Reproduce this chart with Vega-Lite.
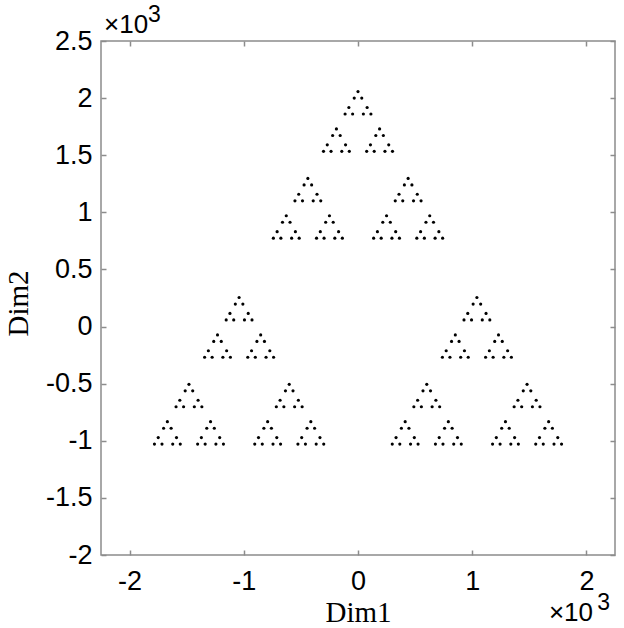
{
  "$schema": "https://vega.github.io/schema/vega-lite/v6.json",
  "autosize": {"type": "none"},
  "padding": {"left": 101, "top": 41, "right": 9, "bottom": 73},
  "width": 514,
  "height": 514,
  "background": "white",
  "config": {
    "view": {"stroke": "#8c8c8c", "strokeWidth": 1.5},
    "axis": {
      "grid": false,
      "domain": false,
      "tickColor": "#8c8c8c",
      "tickWidth": 1.5,
      "tickSize": -5,
      "labelFont": "Liberation Sans",
      "labelFontSize": 27,
      "labelColor": "black",
      "titleFont": "Liberation Serif",
      "titleFontSize": 29,
      "titleFontWeight": "normal",
      "titleColor": "black"
    }
  },
  "data": {"values": [
    {"x":0,"y":2057},{"x":-33,"y":2000},{"x":33,"y":2000},{"x":-80,"y":1918},{"x":-113,"y":1861},{"x":-47,"y":1861},{"x":80,"y":1918},{"x":47,"y":1861},{"x":113,"y":1861},
    {"x":-189,"y":1730},{"x":-222,"y":1673},{"x":-156,"y":1673},{"x":-269,"y":1591},{"x":-302,"y":1534},{"x":-236,"y":1534},{"x":-109,"y":1591},{"x":-142,"y":1534},{"x":-76,"y":1534},
    {"x":189,"y":1730},{"x":156,"y":1673},{"x":222,"y":1673},{"x":109,"y":1591},{"x":76,"y":1534},{"x":142,"y":1534},{"x":269,"y":1591},{"x":236,"y":1534},{"x":302,"y":1534},
    {"x":-439,"y":1297},{"x":-472,"y":1240},{"x":-406,"y":1240},{"x":-519,"y":1158},{"x":-552,"y":1101},{"x":-486,"y":1101},{"x":-359,"y":1158},{"x":-392,"y":1101},{"x":-326,"y":1101},
    {"x":-628,"y":970},{"x":-661,"y":913},{"x":-595,"y":913},{"x":-708,"y":831},{"x":-741,"y":774},{"x":-675,"y":774},{"x":-548,"y":831},{"x":-581,"y":774},{"x":-515,"y":774},
    {"x":-250,"y":970},{"x":-283,"y":913},{"x":-217,"y":913},{"x":-330,"y":831},{"x":-363,"y":774},{"x":-297,"y":774},{"x":-170,"y":831},{"x":-203,"y":774},{"x":-137,"y":774},
    {"x":439,"y":1297},{"x":406,"y":1240},{"x":472,"y":1240},{"x":359,"y":1158},{"x":326,"y":1101},{"x":392,"y":1101},{"x":519,"y":1158},{"x":486,"y":1101},{"x":552,"y":1101},
    {"x":250,"y":970},{"x":217,"y":913},{"x":283,"y":913},{"x":170,"y":831},{"x":137,"y":774},{"x":203,"y":774},{"x":330,"y":831},{"x":297,"y":774},{"x":363,"y":774},
    {"x":628,"y":970},{"x":595,"y":913},{"x":661,"y":913},{"x":548,"y":831},{"x":515,"y":774},{"x":581,"y":774},{"x":708,"y":831},{"x":675,"y":774},{"x":741,"y":774},
    {"x":-1041,"y":254},{"x":-1074,"y":197},{"x":-1008,"y":197},{"x":-1121,"y":115},{"x":-1154,"y":58},{"x":-1088,"y":58},{"x":-961,"y":115},{"x":-994,"y":58},{"x":-928,"y":58},
    {"x":-1230,"y":-73},{"x":-1263,"y":-130},{"x":-1197,"y":-130},{"x":-1310,"y":-212},{"x":-1343,"y":-269},{"x":-1277,"y":-269},{"x":-1150,"y":-212},{"x":-1183,"y":-269},{"x":-1117,"y":-269},
    {"x":-852,"y":-73},{"x":-885,"y":-130},{"x":-819,"y":-130},{"x":-932,"y":-212},{"x":-965,"y":-269},{"x":-899,"y":-269},{"x":-772,"y":-212},{"x":-805,"y":-269},{"x":-739,"y":-269},
    {"x":-1480,"y":-506},{"x":-1513,"y":-563},{"x":-1447,"y":-563},{"x":-1560,"y":-645},{"x":-1593,"y":-702},{"x":-1527,"y":-702},{"x":-1400,"y":-645},{"x":-1433,"y":-702},{"x":-1367,"y":-702},
    {"x":-1669,"y":-833},{"x":-1702,"y":-890},{"x":-1636,"y":-890},{"x":-1749,"y":-972},{"x":-1782,"y":-1029},{"x":-1716,"y":-1029},{"x":-1589,"y":-972},{"x":-1622,"y":-1029},{"x":-1556,"y":-1029},
    {"x":-1291,"y":-833},{"x":-1324,"y":-890},{"x":-1258,"y":-890},{"x":-1371,"y":-972},{"x":-1404,"y":-1029},{"x":-1338,"y":-1029},{"x":-1211,"y":-972},{"x":-1244,"y":-1029},{"x":-1178,"y":-1029},
    {"x":-602,"y":-506},{"x":-635,"y":-563},{"x":-569,"y":-563},{"x":-682,"y":-645},{"x":-715,"y":-702},{"x":-649,"y":-702},{"x":-522,"y":-645},{"x":-555,"y":-702},{"x":-489,"y":-702},
    {"x":-791,"y":-833},{"x":-824,"y":-890},{"x":-758,"y":-890},{"x":-871,"y":-972},{"x":-904,"y":-1029},{"x":-838,"y":-1029},{"x":-711,"y":-972},{"x":-744,"y":-1029},{"x":-678,"y":-1029},
    {"x":-413,"y":-833},{"x":-446,"y":-890},{"x":-380,"y":-890},{"x":-493,"y":-972},{"x":-526,"y":-1029},{"x":-460,"y":-1029},{"x":-333,"y":-972},{"x":-366,"y":-1029},{"x":-300,"y":-1029},
    {"x":1041,"y":254},{"x":1008,"y":197},{"x":1074,"y":197},{"x":961,"y":115},{"x":928,"y":58},{"x":994,"y":58},{"x":1121,"y":115},{"x":1088,"y":58},{"x":1154,"y":58},
    {"x":852,"y":-73},{"x":819,"y":-130},{"x":885,"y":-130},{"x":772,"y":-212},{"x":739,"y":-269},{"x":805,"y":-269},{"x":932,"y":-212},{"x":899,"y":-269},{"x":965,"y":-269},
    {"x":1230,"y":-73},{"x":1197,"y":-130},{"x":1263,"y":-130},{"x":1150,"y":-212},{"x":1117,"y":-269},{"x":1183,"y":-269},{"x":1310,"y":-212},{"x":1277,"y":-269},{"x":1343,"y":-269},
    {"x":602,"y":-506},{"x":569,"y":-563},{"x":635,"y":-563},{"x":522,"y":-645},{"x":489,"y":-702},{"x":555,"y":-702},{"x":682,"y":-645},{"x":649,"y":-702},{"x":715,"y":-702},
    {"x":413,"y":-833},{"x":380,"y":-890},{"x":446,"y":-890},{"x":333,"y":-972},{"x":300,"y":-1029},{"x":366,"y":-1029},{"x":493,"y":-972},{"x":460,"y":-1029},{"x":526,"y":-1029},
    {"x":791,"y":-833},{"x":758,"y":-890},{"x":824,"y":-890},{"x":711,"y":-972},{"x":678,"y":-1029},{"x":744,"y":-1029},{"x":871,"y":-972},{"x":838,"y":-1029},{"x":904,"y":-1029},
    {"x":1480,"y":-506},{"x":1447,"y":-563},{"x":1513,"y":-563},{"x":1400,"y":-645},{"x":1367,"y":-702},{"x":1433,"y":-702},{"x":1560,"y":-645},{"x":1527,"y":-702},{"x":1593,"y":-702},
    {"x":1291,"y":-833},{"x":1258,"y":-890},{"x":1324,"y":-890},{"x":1211,"y":-972},{"x":1178,"y":-1029},{"x":1244,"y":-1029},{"x":1371,"y":-972},{"x":1338,"y":-1029},{"x":1404,"y":-1029},
    {"x":1669,"y":-833},{"x":1636,"y":-890},{"x":1702,"y":-890},{"x":1589,"y":-972},{"x":1556,"y":-1029},{"x":1622,"y":-1029},{"x":1749,"y":-972},{"x":1716,"y":-1029},{"x":1782,"y":-1029}
  ]},
  "layer": [
    {
      "mark": {"type": "circle", "size": 10, "color": "black", "opacity": 1},
      "encoding": {
        "x": {"field": "x", "type": "quantitative",
              "scale": {"domain": [-2250, 2250], "nice": false, "zero": false},
              "axis": {"orient": "bottom", "values": [-2000, -1000, 0, 1000, 2000],
                       "labelExpr": "'' + (datum.value / 1000)", "labelPadding": 18,
                       "title": "Dim1", "titleBaseline": "alphabetic", "titleY": 66}},
        "y": {"field": "y", "type": "quantitative",
              "scale": {"domain": [-2000, 2500], "nice": false, "zero": false},
              "axis": {"orient": "left", "values": [-2000, -1500, -1000, -500, 0, 500, 1000, 1500, 2000, 2500],
                       "labelExpr": "'' + (datum.value / 1000)", "labelPadding": 14,
                       "title": "Dim2", "titleBaseline": "alphabetic", "titleX": -74, "titleY": 262}}
      }
    },
    {
      "mark": {"type": "circle", "size": 10, "opacity": 0},
      "encoding": {
        "x": {"field": "x", "type": "quantitative",
              "scale": {"domain": [-2250, 2250], "nice": false, "zero": false},
              "axis": {"orient": "top", "values": [-2000, -1000, 0, 1000, 2000], "labels": false, "title": null}},
        "y": {"field": "y", "type": "quantitative",
              "scale": {"domain": [-2000, 2500], "nice": false, "zero": false},
              "axis": {"orient": "right", "values": [-2000, -1500, -1000, -500, 0, 500, 1000, 1500, 2000, 2500], "labels": false, "title": null}}
      }
    },
    {
      "data": {"values": [{"t": "×10"}]},
      "mark": {"type": "text", "font": "Liberation Sans", "fontSize": 26, "align": "left", "baseline": "alphabetic", "dx": 3, "dy": -8, "color": "black"},
      "encoding": {
        "x": {"datum": -2250, "type": "quantitative", "axis": null, "scale": {"domain": [-2250, 2250], "nice": false, "zero": false}},
        "y": {"datum": 2500, "type": "quantitative", "axis": null, "scale": {"domain": [-2000, 2500], "nice": false, "zero": false}},
        "text": {"field": "t"}
      }
    },
    {
      "data": {"values": [{"t": "3"}]},
      "mark": {"type": "text", "font": "Liberation Sans", "fontSize": 23, "align": "left", "baseline": "alphabetic", "dx": 47, "dy": -19, "color": "black"},
      "encoding": {
        "x": {"datum": -2250, "type": "quantitative", "axis": null, "scale": {"domain": [-2250, 2250], "nice": false, "zero": false}},
        "y": {"datum": 2500, "type": "quantitative", "axis": null, "scale": {"domain": [-2000, 2500], "nice": false, "zero": false}},
        "text": {"field": "t"}
      }
    },
    {
      "data": {"values": [{"t": "×10"}]},
      "mark": {"type": "text", "font": "Liberation Sans", "fontSize": 26, "align": "right", "baseline": "alphabetic", "dx": -22, "dy": 66, "color": "black"},
      "encoding": {
        "x": {"datum": 2250, "type": "quantitative", "axis": null, "scale": {"domain": [-2250, 2250], "nice": false, "zero": false}},
        "y": {"datum": -2000, "type": "quantitative", "axis": null, "scale": {"domain": [-2000, 2500], "nice": false, "zero": false}},
        "text": {"field": "t"}
      }
    },
    {
      "data": {"values": [{"t": "3"}]},
      "mark": {"type": "text", "font": "Liberation Sans", "fontSize": 23, "align": "right", "baseline": "alphabetic", "dx": -5, "dy": 55, "color": "black"},
      "encoding": {
        "x": {"datum": 2250, "type": "quantitative", "axis": null, "scale": {"domain": [-2250, 2250], "nice": false, "zero": false}},
        "y": {"datum": -2000, "type": "quantitative", "axis": null, "scale": {"domain": [-2000, 2500], "nice": false, "zero": false}},
        "text": {"field": "t"}
      }
    }
  ],
  "resolve": {"axis": {"x": "independent", "y": "independent"}}
}
